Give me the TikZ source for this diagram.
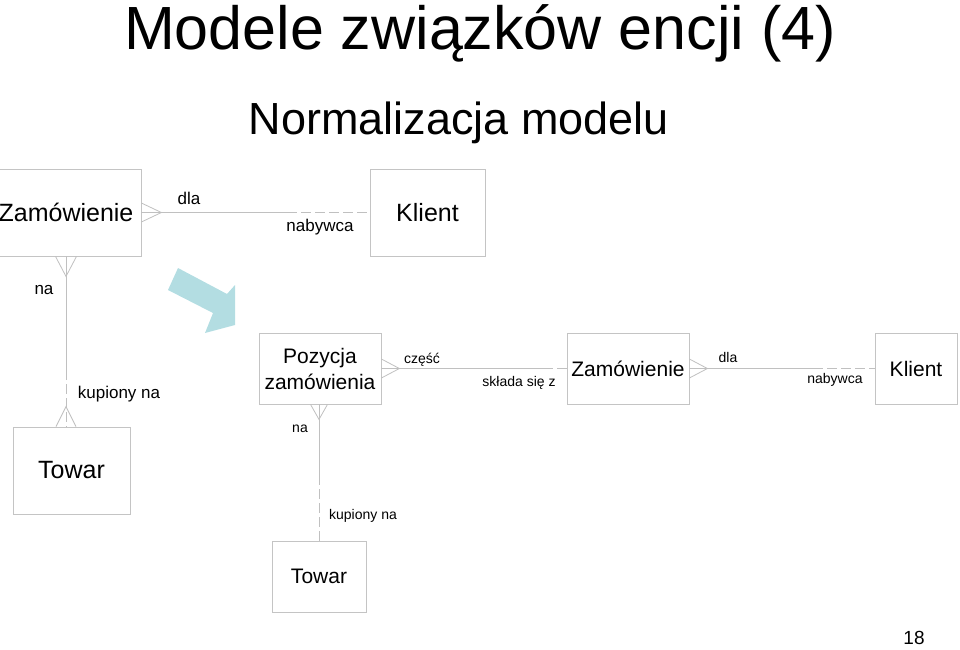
\documentclass[tikz,border=0pt]{standalone}
\usepackage{fontspec}
\setmainfont{Liberation Sans}
\definecolor{boxgray}{HTML}{C4C4C4}
\definecolor{linegray}{HTML}{C0C0C0}
\definecolor{arrowblue}{HTML}{B3DDE2}
\tikzset{
    entity/.style={draw=boxgray, line width=0.8pt, inner sep=0pt, align=center,
        font=\fontsize{21}{26}\selectfont},
    bigentity/.style={entity, font=\fontsize{25}{30}\selectfont},
    rel/.style={draw=linegray, line width=0.8pt},
    opt/.style={rel, dash pattern=on 10pt off 4pt},
    lbl/.style={font=\fontsize{17}{20}\selectfont, inner sep=0pt},
    smalllbl/.style={font=\fontsize{14}{17}\selectfont, inner sep=0pt}
}
\begin{document}
\begin{tikzpicture}[x=1pt,y=-1pt]
    \useasboundingbox (0,0) rectangle (960,649);

    % 1. Titles
    \node[anchor=base, font=\fontsize{61}{70}\selectfont] (title) at (480,49) {Modele związków encji (4)};
    \node[anchor=base, font=\fontsize{45}{52}\selectfont] (subtitle) at (459,134) {Normalizacja modelu};

    % 2. Model before normalization
    \node[bigentity, minimum width=150pt, minimum height=87pt] (zam1) at (66,212.5) {Zamówienie};
    \node[bigentity, minimum width=115pt, minimum height=87pt] (kl1) at (427.5,212.5) {Klient};
    \node[bigentity, minimum width=117pt, minimum height=87pt] (tow1) at (71.5,470.5) {Towar};

    \coordinate (m1) at (287,212.5);
    \draw[rel] (zam1.east) -- (m1);
    \draw[opt] (m1) -- (kl1.west);
    \draw[rel] ([yshift=9.5pt]zam1.east) -- ([xshift=20pt]zam1.east) -- ([yshift=-9.5pt]zam1.east);
    \node[lbl] (dla1) at (189,198) {dla};
    \node[lbl] (nab1) at (320,227) {nabywca};

    \coordinate (m2) at (66,370);
    \coordinate (t1) at (zam1.south |- tow1.north);
    \draw[rel] (zam1.south) -- (m2);
    \draw[opt] (m2) -- (t1);
    \draw[rel] ([xshift=-10.5pt]zam1.south) -- ([yshift=-20pt]zam1.south) -- ([xshift=10.5pt]zam1.south);
    \draw[rel] ([xshift=-10pt]t1) -- ([yshift=20pt]t1) -- ([xshift=10pt]t1);
    \node[lbl] (na1) at (44,290) {na};
    \node[lbl] (kup1) at (119,394) {kupiony na};

    % 3. Arrow
    \fill[arrowblue] (178,268) -- (227,294) -- (235,285) -- (235,325) -- (205,333)
        -- (213,313) -- (168,290) -- cycle;

    % 4. Model after normalization
    \node[entity, minimum width=122pt, minimum height=71pt] (poz) at (320,368.5) {Pozycja\\zamówienia};
    \node[entity, minimum width=122pt, minimum height=71pt] (zam2) at (628,368.5) {Zamówienie};
    \node[entity, minimum width=82pt, minimum height=71pt] (kl2) at (916,368.5) {Klient};
    \node[entity, minimum width=94pt, minimum height=71pt] (tow2) at (319,576.5) {Towar};

    \coordinate (m3) at (543,368.5);
    \draw[rel] (poz.east) -- (m3);
    \draw[opt] (m3) -- (zam2.west);
    \draw[rel] ([yshift=9.5pt]poz.east) -- ([xshift=18pt]poz.east) -- ([yshift=-9.5pt]poz.east);
    \node[smalllbl] (czesc) at (422,360) {część};
    \node[smalllbl] (sklada) at (519,383) {składa się z};

    \coordinate (m4) at (813,368.5);
    \draw[rel] (zam2.east) -- (m4);
    \draw[opt] (m4) -- (kl2.west);
    \draw[rel] ([yshift=9.5pt]zam2.east) -- ([xshift=18pt]zam2.east) -- ([yshift=-9.5pt]zam2.east);
    \node[smalllbl] (dla2) at (728,357) {dla};
    \node[smalllbl] (nab2) at (835,380) {nabywca};

    \coordinate (t2) at (tow2.north |- poz.south);
    \coordinate (m5) at (319,475);
    \draw[rel] (t2) -- (m5);
    \draw[opt] (m5) -- (tow2.north);
    \draw[rel] ([xshift=-8.5pt]t2) -- ([yshift=-15pt]t2) -- ([xshift=8.5pt]t2);
    \node[smalllbl] (na2) at (300,429) {na};
    \node[smalllbl] (kup2) at (363,516) {kupiony na};

    % 5. Page number
    \node[anchor=base, font=\fontsize{19}{22}\selectfont] (page) at (914,644) {18};
\end{tikzpicture}
\end{document}
